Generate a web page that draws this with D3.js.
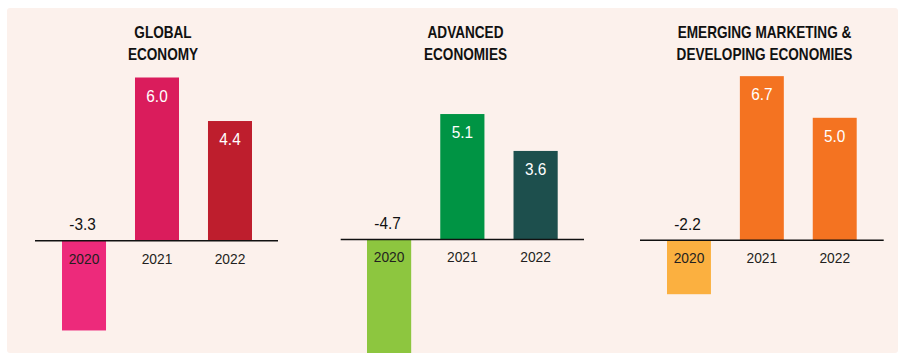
<!DOCTYPE html>
<html>
<head>
<meta charset="utf-8">
<script src="https://cdn.jsdelivr.net/npm/d3@7"></script>
<style>
  body { margin: 0; background: #fff; }
  text { font-family: "Liberation Sans", Arial, sans-serif; }
</style>
</head>
<body>
<svg id="chart" width="898" height="353"></svg>
<script>
// data
var years = ["2020", "2021", "2022"];
var panelTitles = [
  ["GLOBAL", "ECONOMY"],
  ["ADVANCED", "ECONOMIES"],
  ["EMERGING MARKETING &", "DEVELOPING ECONOMIES"]
];
var globalValues = [-3.3, 6.0, 4.4];
var advancedValues = [-4.7, 5.1, 3.6];
var emergingValues = [-2.2, 6.7, 5.0];

var globalColors = ["#ed2a7b", "#da1c5c", "#be1e2d"];
var advancedColors = ["#8dc63f", "#009444", "#1d4f4d"];
var emergingColors = ["#fbb040", "#f47321", "#f47321"];

// layout for each panel
var panels = [
  { title: panelTitles[0], values: globalValues, colors: globalColors,
    bars: [62, 252], line: [35, 278], base: 240.7, unit: 27.2, titleX: 163 },
  { title: panelTitles[1], values: advancedValues, colors: advancedColors,
    bars: [367, 557.7], line: [340.7, 584], base: 239.5, unit: 24.6, titleX: 465.5 },
  { title: panelTitles[2], values: emergingValues, colors: emergingColors,
    bars: [667, 856.7], line: [640, 883.7], base: 240.3, unit: 24.5, titleX: 764.5 }
];

// no narrow font installed, so squeeze the regular one
var narrowTitle = "scale(0.85,1)";
var narrowYear = "scale(0.89,1)";
var narrowValue = "scale(0.96,1)";

var svg = d3.select("#chart");

// background
svg.append("rect")
  .attr("x", 7).attr("y", 8)
  .attr("width", 891).attr("height", 345)
  .attr("rx", 3)
  .attr("fill", "#fcf1ec");

panels.forEach(function(p) {
  var g = svg.append("g");

  var x = d3.scaleBand()
    .domain(years)
    .range(p.bars)
    .paddingInner(0.397)
    .paddingOuter(0);

  // linear scale, zero on the baseline
  var y = d3.scaleLinear()
    .domain([0, 1])
    .range([p.base, p.base - p.unit]);

  var data = years.map(function(yr, i) {
    return { year: yr, value: p.values[i], color: p.colors[i] };
  });

  // title
  g.append("g")
    .attr("transform", "translate(" + p.titleX + ",37.7) " + narrowTitle)
    .append("text")
    .attr("text-anchor", "middle")
    .attr("font-size", 16)
    .attr("font-weight", "bold")
    .attr("fill", "#111")
    .selectAll("tspan")
    .data(p.title)
    .enter().append("tspan")
    .attr("x", 0)
    .attr("dy", function(d, i) { return i ? 22.3 : 0; })
    .text(function(d) { return d; });

  // bars
  g.selectAll(".bar")
    .data(data)
    .enter().append("rect")
    .attr("class", "bar")
    .attr("x", function(d) { return x(d.year); })
    .attr("width", x.bandwidth())
    .attr("y", function(d) { return Math.min(y(d.value), y(0)); })
    .attr("height", function(d) { return Math.abs(y(d.value) - y(0)); })
    .attr("fill", function(d) { return d.color; });

  // value labels
  g.selectAll(".val")
    .data(data)
    .enter().append("g")
    .attr("class", "val")
    .attr("transform", function(d) {
      var cx = x(d.year) + x.bandwidth() / 2 - (d.value < 0 ? 1.5 : 0);
      var cy = d.value < 0 ? y(0) - 10.5 : y(d.value) + 24;
      return "translate(" + cx + "," + cy + ") " + narrowValue;
    })
    .append("text")
    .attr("text-anchor", "middle")
    .attr("font-size", 16)
    .attr("fill", function(d) { return d.value < 0 ? "#111" : "#fff"; })
    .text(function(d) { return d3.format(".1f")(d.value).replace("−", "-"); });

  // year labels
  var axis = g.append("g")
    .attr("transform", "translate(0," + y(0) + ")")
    .call(d3.axisBottom(x).tickSize(0).tickPadding(12));
  axis.select(".domain").remove();
  axis.selectAll("text")
    .attr("font-size", 15.5)
    .attr("fill", "#231f20")
    .attr("font-family", null)
    .attr("transform", narrowYear);

  // baseline
  g.append("line")
    .attr("x1", p.line[0]).attr("x2", p.line[1])
    .attr("y1", y(0)).attr("y2", y(0))
    .attr("stroke", "#111")
    .attr("stroke-width", 1.5);
});
</script>
</body>
</html>
